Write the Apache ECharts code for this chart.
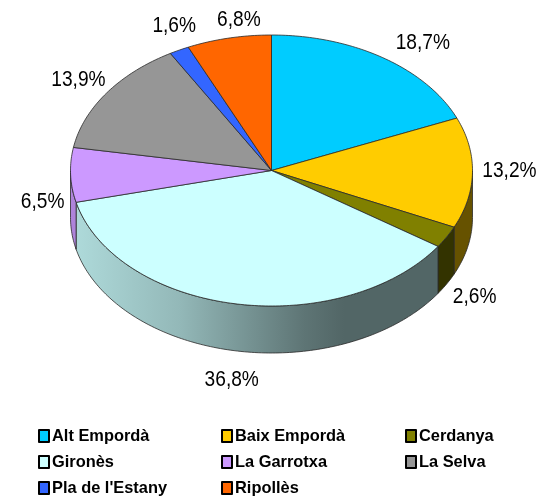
<!DOCTYPE html>
<html>
<head>
<meta charset="utf-8">
<style>html,body{margin:0;padding:0;background:#fff}#c{width:540px;height:497px}</style>
<script src="https://cdn.jsdelivr.net/npm/echarts@6/dist/echarts.min.js"></script>
</head>
<body>
<div id="c"></div>
<script>
const regions = ['Alt Empordà','Baix Empordà','Cerdanya','Gironès','La Garrotxa','La Selva',"Pla de l'Estany",'Ripollès'];
const shares = [18.7,13.2,2.6,36.8,6.5,13.9,1.6,6.8];
const shareLabels = ['18,7%','13,2%','2,6%','36,8%','6,5%','13,9%','1,6%','6,8%'];
const palette = ['#00CCFF','#FFCC00','#808000','#CCFFFF','#CC99FF','#969696','#3366FF','#FF6600'];

const legendColumns = [[0,3,6],[1,4,7],[2,5]];
const legendLefts = [38,221,405];

// projection of the pie disc
const CX = 271.5, CY = 170.5, RX = 201, RY = 135.5, DEPTH = 47;
// label anchor, offset from the rim point at each slice's middle angle
const labelNudge = [[40,-15],[37,-2],[28,60],[-4,76],[-28,27],[-28,-13],[-5,-24],[10,-18]];

const total = shares.reduce((a,b)=>a+b,0);
const rimPoint = (deg,dy=0) => {
  const t = deg*Math.PI/180;
  return [CX+RX*Math.sin(t), CY-RY*Math.cos(t)+dy];
};
const arc = (from,to,dy=0) => {
  const pts=[], n=Math.max(2,Math.ceil(Math.abs(to-from)));
  for(let i=0;i<=n;i++) pts.push(rimPoint(from+(to-from)*i/n,dy));
  return pts;
};
const shade = (hex,f) => {
  const n=parseInt(hex.slice(1),16);
  return `rgb(${Math.round((n>>16&255)*f)},${Math.round((n>>8&255)*f)},${Math.round((n&255)*f)})`;
};
const wallFill = hex => new echarts.graphic.LinearGradient(72,0,472,0,[
  {offset:0,color:shade(hex,.86)},
  {offset:.27,color:shade(hex,.72)},
  {offset:.58,color:shade(hex,.46)},
  {offset:.68,color:shade(hex,.4)},
  {offset:1,color:shade(hex,.4)}
],true);

const makeRender = idx => (params,api) => {
  const before = shares.slice(0,idx).reduce((a,b)=>a+b,0);
  const a0 = before/total*360, a1 = a0+api.value(0)/total*360;
  const children = [];
  const w0 = Math.max(a0,90), w1 = Math.min(a1,270);
  if (w1>w0) {
    children.push({type:'polygon',
      shape:{points:arc(w0,w1).concat(arc(w1,w0,DEPTH))},
      style:{fill:wallFill(palette[idx]),stroke:'#2a2a2a',lineWidth:.8}});
  }
  children.push({type:'polygon',
    shape:{points:[[CX,CY]].concat(arc(a0,a1))},
    style:{fill:palette[idx],stroke:'#2a2a2a',lineWidth:.8,lineJoin:'round'}});
  const mid = rimPoint((a0+a1)/2);
  children.push({type:'text',
    x:mid[0]+labelNudge[idx][0], y:mid[1]+labelNudge[idx][1], scaleX:.87,
    style:{text:shareLabels[idx],align:'center',verticalAlign:'middle',
      font:'22px "Liberation Sans"',fill:'#000'}});
  return {type:'group',children};
};

const chart = echarts.init(document.getElementById('c'),null,{renderer:'canvas'});
chart.setOption({
  animation:false,
  backgroundColor:'#fff',
  color:palette,
  legend:legendColumns.map((col,i)=>({
    orient:'vertical',left:legendLefts[i],top:428,
    data:col.map(k=>regions[k]),
    selectedMode:false,
    icon:'rect',itemWidth:10,itemHeight:12,itemGap:10,
    itemStyle:{borderColor:'#000',borderWidth:2,borderJoin:'round'},
    textStyle:{fontFamily:'"Liberation Sans"',fontWeight:'bold',fontSize:16.4,color:'#000',padding:[0,0,0,-2]},
    padding:0
  })),
  series:regions.map((name,i)=>({
    type:'custom',name,coordinateSystem:'none',silent:true,
    data:[[shares[i]]],
    renderItem:makeRender(i)
  }))
});
</script>
</body>
</html>
